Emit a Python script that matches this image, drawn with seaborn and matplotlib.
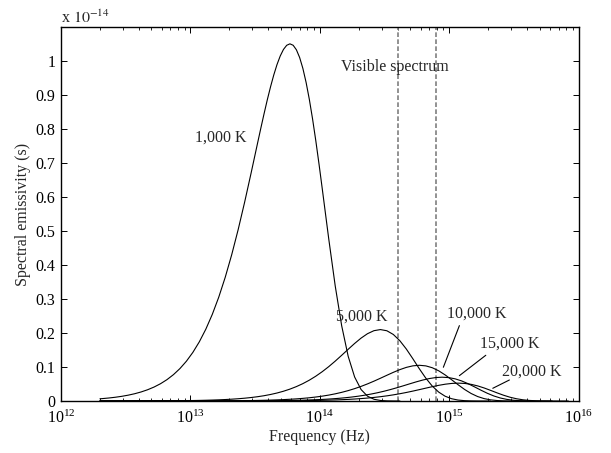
"""
Blackbody spectral emissivity vs frequency (log axis), MATLAB-like look
"""

import pandas as pd
import matplotlib
matplotlib.use('Agg')
import matplotlib.pyplot as plt
import seaborn as sns
from matplotlib.ticker import FuncFormatter, LogLocator, NullLocator


# Curve samples (frequency in Hz, emissivity in units of 1e-14 s)
freq_1000 = [2.0e12,
             2.0837e12, 2.3379e12, 2.6232e12, 2.9433e12, 3.3024e12, 3.7054e12, 4.1575e12, 4.6648e12, 5.2339e12, 5.8726e12,
             6.5891e12, 7.3931e12, 8.2952e12, 9.3074e12, 1.0443e13, 1.1717e13, 1.3147e13, 1.4751e13, 1.6551e13, 1.8571e13,
             2.0837e13, 2.3379e13, 2.6232e13, 2.9433e13,
             3.3024e13, 3.4981e13, 3.7054e13, 3.9248e13, 4.1575e13, 4.4038e13, 4.6648e13, 4.9412e13,
             5.2339e13, 5.5440e13, 5.8726e13, 6.2206e13, 6.5891e13, 6.9797e13, 7.3931e13, 7.8313e13,
             8.2952e13, 8.7868e13, 9.3074e13, 9.8589e13, 1.0443e14, 1.1062e14,
             1.1717e14, 1.3147e14, 1.4751e14, 1.6551e14, 1.8571e14,
             2.0837e14, 2.3379e14, 2.6232e14, 2.9433e14, 3.3024e14, 3.7054e14, 4.1575e14]
emis_1000 = [0.00649,
             0.00703, 0.00879, 0.01099, 0.01373, 0.01713, 0.02135, 0.02658, 0.03305, 0.04102, 0.05082,
             0.06283, 0.07751, 0.09536, 0.11697, 0.14299, 0.17412, 0.21109, 0.25463, 0.30536, 0.36379,
             0.43010, 0.50404, 0.58478, 0.67055,
             0.75852, 0.80216, 0.84473, 0.88563, 0.92382, 0.95875, 0.98938, 1.01470,
             1.03395, 1.04618, 1.05047, 1.04625, 1.03294, 1.01024, 0.97820, 0.93684,
             0.88691, 0.82927, 0.76520, 0.69606, 0.62364, 0.54984,
             0.47646, 0.33825, 0.22102, 0.13155, 0.07048,
             0.03355, 0.01399, 0.00503, 0.00153, 0.00039, 0.00008, 0.00001]

freq_5000 = [2.0e12,
             1.0418e13, 1.1690e13, 1.3116e13, 1.4716e13, 1.6512e13, 1.8527e13, 2.0787e13, 2.3324e13, 2.6170e13, 2.9363e13,
             3.2946e13, 3.6966e13, 4.1476e13, 4.6537e13, 5.2216e13, 5.8587e13, 6.5736e13, 7.3757e13, 8.2756e13, 9.2854e13,
             1.0418e14, 1.1690e14, 1.3116e14, 1.4716e14, 1.6512e14, 1.8527e14, 2.0787e14, 2.3324e14, 2.6170e14, 2.9363e14,
             3.2946e14, 3.6966e14, 4.1476e14, 4.6537e14, 5.2216e14, 5.8587e14, 6.5736e14, 7.3757e14, 8.2756e14, 9.2854e14,
             1.0418e15, 1.1690e15, 1.3116e15, 1.4716e15, 1.6512e15, 1.8527e15, 2.0787e15]
emis_5000 = [0.00005,
             0.00141, 0.00176, 0.00220, 0.00275, 0.00343, 0.00427, 0.00532, 0.00661, 0.00820, 0.01016,
             0.01257, 0.01550, 0.01907, 0.02339, 0.02860, 0.03482, 0.04222, 0.05093, 0.06107, 0.07276,
             0.08602, 0.10081, 0.11696, 0.13411, 0.15171, 0.16895, 0.18477, 0.19788, 0.20679, 0.21009,
             0.20659, 0.19564, 0.17738, 0.15304, 0.12473, 0.09529, 0.06765, 0.04421, 0.02631, 0.01410,
             0.00671, 0.00280, 0.00101, 0.00031, 0.00008, 0.00002, 0.0]

freq_10000 = [2.0e12,
              2.0837e13, 2.3379e13, 2.6232e13, 2.9433e13, 3.3024e13, 3.7054e13, 4.1575e13, 4.6648e13, 5.2339e13, 5.8726e13,
              6.5891e13, 7.3931e13, 8.2952e13, 9.3074e13, 1.0443e14, 1.1717e14, 1.3147e14, 1.4751e14, 1.6551e14, 1.8571e14,
              2.0837e14, 2.3379e14, 2.6232e14, 2.9433e14, 3.3024e14, 3.7054e14, 4.1575e14, 4.6648e14, 5.2339e14, 5.8726e14,
              6.5891e14, 7.3931e14, 8.2952e14, 9.3074e14, 1.0443e15, 1.1717e15, 1.3147e15, 1.4751e15, 1.6551e15, 1.8571e15,
              2.0837e15, 2.3379e15, 2.6232e15, 2.9433e15, 3.3024e15, 3.7054e15, 4.1575e15]
emis_10000 = [0.000007,
              0.00070, 0.00088, 0.00110, 0.00137, 0.00171, 0.00214, 0.00266, 0.00330, 0.00410, 0.00508,
              0.00628, 0.00775, 0.00954, 0.01170, 0.01430, 0.01741, 0.02111, 0.02546, 0.03054, 0.03638,
              0.04301, 0.05040, 0.05848, 0.06706, 0.07585, 0.08447, 0.09238, 0.09894, 0.10340, 0.10505,
              0.10329, 0.09782, 0.08869, 0.07652, 0.06236, 0.04765, 0.03383, 0.02210, 0.01316, 0.00705,
              0.00336, 0.00140, 0.00050, 0.00015, 0.00004, 0.00001, 0.0]

freq_15000 = [2.0e12,
              3.1255e13, 3.5069e13, 3.9348e13, 4.4149e13, 4.9536e13, 5.5580e13, 6.2362e13, 6.9971e13, 7.8509e13, 8.8089e13,
              9.8837e13, 1.1090e14, 1.2443e14, 1.3961e14, 1.5665e14, 1.7576e14, 1.9721e14, 2.2127e14, 2.4827e14, 2.7856e14,
              3.1255e14, 3.5069e14, 3.9348e14, 4.4149e14, 4.9536e14, 5.5580e14, 6.2362e14, 6.9971e14, 7.8509e14, 8.8089e14,
              9.8837e14, 1.1090e15, 1.2443e15, 1.3961e15, 1.5665e15, 1.7576e15, 1.9721e15, 2.2127e15, 2.4827e15, 2.7856e15,
              3.1255e15, 3.5069e15, 3.9348e15, 4.4149e15, 4.9536e15, 5.5580e15, 6.2362e15]
emis_15000 = [0.000002,
              0.00047, 0.00059, 0.00073, 0.00092, 0.00114, 0.00142, 0.00177, 0.00220, 0.00273, 0.00339,
              0.00419, 0.00517, 0.00636, 0.00780, 0.00953, 0.01161, 0.01407, 0.01698, 0.02036, 0.02425,
              0.02867, 0.03360, 0.03899, 0.04470, 0.05057, 0.05632, 0.06159, 0.06596, 0.06893, 0.07003,
              0.06886, 0.06521, 0.05913, 0.05101, 0.04158, 0.03176, 0.02255, 0.01474, 0.00877, 0.00470,
              0.00224, 0.00093, 0.00034, 0.00010, 0.00003, 0.00001, 0.0]

freq_20000 = [2.0e12,
              4.1673e13, 4.6758e13, 5.2464e13, 5.8865e13, 6.6048e13, 7.4107e13, 8.3149e13, 9.3295e13, 1.0468e14, 1.1745e14,
              1.3178e14, 1.4786e14, 1.6590e14, 1.8615e14, 2.0886e14, 2.3435e14, 2.6294e14, 2.9503e14, 3.3102e14, 3.7141e14,
              4.1673e14, 4.6758e14, 5.2464e14, 5.8865e14, 6.6048e14, 7.4107e14, 8.3149e14, 9.3295e14, 1.0468e15, 1.1745e15,
              1.3178e15, 1.4786e15, 1.6590e15, 1.8615e15, 2.0886e15, 2.3435e15, 2.6294e15, 2.9503e15, 3.3102e15, 3.7141e15,
              4.1673e15, 4.6758e15, 5.2464e15, 5.8865e15, 6.6048e15, 7.4107e15, 8.3149e15]
emis_20000 = [0.000001,
              0.00035, 0.00044, 0.00055, 0.00069, 0.00086, 0.00107, 0.00133, 0.00165, 0.00205, 0.00254,
              0.00314, 0.00388, 0.00477, 0.00585, 0.00715, 0.00871, 0.01056, 0.01273, 0.01527, 0.01819,
              0.02151, 0.02520, 0.02924, 0.03353, 0.03793, 0.04224, 0.04619, 0.04947, 0.05170, 0.05252,
              0.05165, 0.04891, 0.04435, 0.03826, 0.03118, 0.02382, 0.01691, 0.01105, 0.00658, 0.00352,
              0.00168, 0.00070, 0.00025, 0.00008, 0.00002, 0.0, 0.0]

temperatures = [1000, 5000, 10000, 15000, 20000]
temp_labels = ['1,000 K', '5,000 K', '10,000 K', '15,000 K', '20,000 K']
visible_band = [4.0e14, 7.9e14]
y_ticks = [0, 0.1, 0.2, 0.3, 0.4, 0.5, 0.6, 0.7, 0.8, 0.9, 1.0]


# Long-form table for seaborn
curves = [(freq_1000, emis_1000), (freq_5000, emis_5000), (freq_10000, emis_10000),
          (freq_15000, emis_15000), (freq_20000, emis_20000)]
df = pd.concat([pd.DataFrame({'freq': f, 'emis': e, 'temp': t})
                for (f, e), t in zip(curves, temperatures)], ignore_index=True)

# Style
sns.set_style('ticks')
plt.rcParams['font.family'] = ['Liberation Serif', 'DejaVu Serif']
plt.rcParams['mathtext.fontset'] = 'stix'
FS = 11.5

fig = plt.figure(figsize=(6.11, 4.53), dpi=100)
ax = fig.add_axes([61 / 611, 1 - 401 / 453, (578.7 - 61) / 611, (401 - 27) / 453])

sns.lineplot(data=df, x='freq', y='emis', units='temp', estimator=None,
             color='black', linewidth=0.8, ax=ax)

# Visible spectrum markers
for f in visible_band:
    ax.axvline(f, color='#7f7f7f', linestyle=(0, (2.8, 1.4)), linewidth=1.2, zorder=1)

# Axes formatting
ax.set_xscale('log')
ax.set_xlim(1e12, 1e16)
ax.set_ylim(0, 1.1)
ax.set_yticks(y_ticks)
ax.yaxis.set_major_formatter(FuncFormatter(lambda v, p: f'{v:g}'))
ax.yaxis.set_minor_locator(NullLocator())
ax.xaxis.set_minor_locator(LogLocator(base=10, subs=range(2, 10), numticks=20))
ax.tick_params(which='both', direction='in', top=True, right=True, colors='black')
ax.tick_params(which='major', length=4.5, width=0.7, labelsize=FS)
ax.tick_params(axis='y', which='major', pad=4)
ax.tick_params(axis='x', which='major', pad=6.5)
ax.tick_params(which='minor', length=2.5, width=0.6)
for spine in ax.spines.values():
    spine.set_linewidth(1.0)
    spine.set_color('black')

ax.set_xlabel('Frequency (Hz)', fontsize=FS, labelpad=1)
ax.set_ylabel('Spectral emissivity (s)', fontsize=FS, labelpad=3)
ax.text(0, 1.011, r'x $10^{-14}$', transform=ax.transAxes, fontsize=FS,
        ha='left', va='baseline')

# Labels and pointers
ax.text(3.83e14, 0.982, 'Visible spectrum', fontsize=FS, ha='center', va='center')
ax.text(1.708e13, 0.775, temp_labels[0], fontsize=FS, ha='center', va='center')
ax.text(2.119e14, 0.248, temp_labels[1], fontsize=FS, ha='center', va='center')
ax.text(1.640e15, 0.258, temp_labels[2], fontsize=FS, ha='center', va='center')
ax.text(2.909e15, 0.168, temp_labels[3], fontsize=FS, ha='center', va='center')
ax.text(4.317e15, 0.087, temp_labels[4], fontsize=FS, ha='center', va='center')

pointer = dict(arrowstyle='-', color='black', lw=0.8, shrinkA=0, shrinkB=0)
ax.annotate('', xy=(9.00e14, 0.0992), xytext=(1.197e15, 0.2217), arrowprops=pointer)
ax.annotate('', xy=(1.197e15, 0.0745), xytext=(1.915e15, 0.1345), arrowprops=pointer)
ax.annotate('', xy=(2.169e15, 0.0374), xytext=(2.914e15, 0.0618), arrowprops=pointer)

plt.savefig('out.png', dpi=100)
plt.close()
